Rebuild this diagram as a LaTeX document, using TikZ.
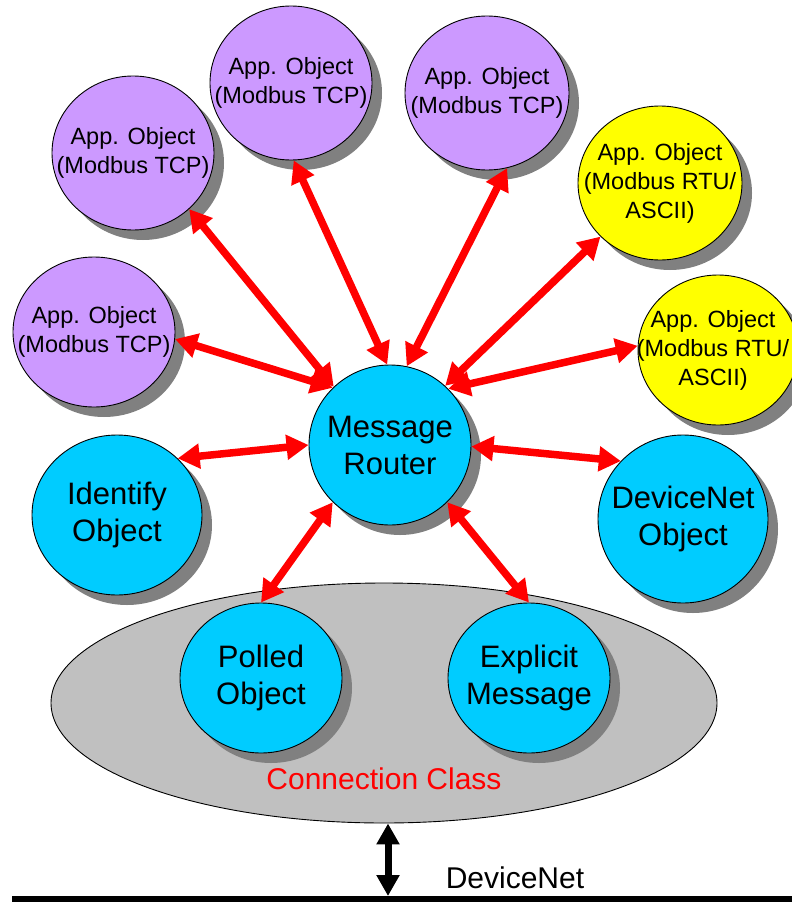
\documentclass[tikz,border=0pt]{standalone}
\usepackage{fontspec}
\setmainfont{Liberation Sans}
\usetikzlibrary{shapes.geometric,arrows.meta,shadows}
\definecolor{purp}{HTML}{CC99FF}
\definecolor{yel}{HTML}{FFFF00}
\definecolor{cyn}{HTML}{00CCFF}
\definecolor{gry}{HTML}{C0C0C0}
\definecolor{shd}{HTML}{808080}
\begin{document}
\begin{tikzpicture}[x=1pt,y=-1pt,
  obj/.style={ellipse,draw=black,line width=0.9pt,inner sep=0pt,
    drop shadow={shadow xshift=10pt,shadow yshift=-10pt,fill=shd,opacity=1}},
  lbl/.style={align=center,font=\fontsize{23.5}{29}\selectfont},
  big/.style={align=center,font=\fontsize{31}{37}\selectfont},
  app/.style={obj,fill=purp},
  rtu/.style={obj,fill=yel},
  cyo/.style={obj,fill=cyn},
  rarr/.style={draw=red,line width=7.5pt,{Triangle[length=22pt,width=24pt]}-{Triangle[length=22pt,width=24pt]}},
  barr/.style={draw=black,line width=7pt,{Triangle[length=21pt,width=22pt]}-{Triangle[length=21pt,width=22pt]}},
]
\useasboundingbox (0,0) rectangle (792,902);
% connection class
\node[ellipse,draw=black,line width=0.9pt,fill=gry,minimum width=666pt,minimum height=240pt,inner sep=0pt] (cc) at (384,703) {};
\node[text=red,font=\fontsize{30}{36}\selectfont] (cct) at (384,779) {Connection Class};
% application objects
\node[app,minimum width=162pt,minimum height=154pt,label={[lbl]center:App. Object\\(Modbus TCP)}] (p1) at (133,153) {};
\node[app,minimum width=162pt,minimum height=154pt,label={[lbl]center:App. Object\\(Modbus TCP)}] (p2) at (291,83) {};
\node[app,minimum width=162pt,minimum height=150pt,label={[lbl]center:App. Object\\(Modbus TCP)}] (p3) at (94,332) {};
\node[app,minimum width=164pt,minimum height=154pt,label={[lbl]center:App. Object\\(Modbus TCP)}] (p4) at (487,93) {};
\node[rtu,minimum width=164pt,minimum height=154pt,label={[lbl]center:App. Object\\(Modbus RTU/\\ASCII)}] (y1) at (660,183) {};
\node[rtu,minimum width=160pt,minimum height=150pt,label={[lbl,xshift=-5pt]center:App. Object\\(Modbus RTU/\\ASCII)}] (y2) at (718,350) {};
% cyan objects
\node[cyo,minimum width=162pt,minimum height=160pt,label={[big]center:Message\\Router}] (mr) at (390,445) {};
\node[cyo,minimum width=170pt,minimum height=160pt,label={[big]center:Identify\\Object}] (id) at (117,515) {};
\node[cyo,minimum width=170pt,minimum height=168pt,label={[big]center:DeviceNet\\Object}] (dn) at (683,519) {};
\node[cyo,minimum width=162pt,minimum height=150pt,label={[big]center:Polled\\Object}] (po) at (261,678) {};
\node[cyo,minimum width=162pt,minimum height=150pt,label={[big]center:Explicit\\Message}] (ex) at (529,678) {};
% red arrows
\draw[rarr] (mr.135) -- (p3.-5);
\draw[rarr] (mr.134) -- (p1.-45);
\draw[rarr] (mr.92) -- (p2.-88);
\draw[rarr] (mr.78) -- (p4.-75);
\draw[rarr] (mr.47) -- (y1.222);
\draw[rarr] (mr.44) -- (y2.177);
\draw[rarr] (mr.180) -- (id.43);
\draw[rarr] (mr.-1) -- (dn.137);
\draw[rarr] (mr.225) -- (po.90);
\draw[rarr] (mr.-45) -- (ex.90);
% DeviceNet bus
\coordinate (busL) at (12,899);
\coordinate (busR) at (796,899);
\coordinate (busP) at (388,896);
\draw[line width=6pt] (busL) -- (busR);
\draw[barr] (cc.south -| busP) -- (busP);
\node[font=\fontsize{30}{36}\selectfont] (dnt) at (515,878) {DeviceNet};
\end{tikzpicture}
\end{document}
